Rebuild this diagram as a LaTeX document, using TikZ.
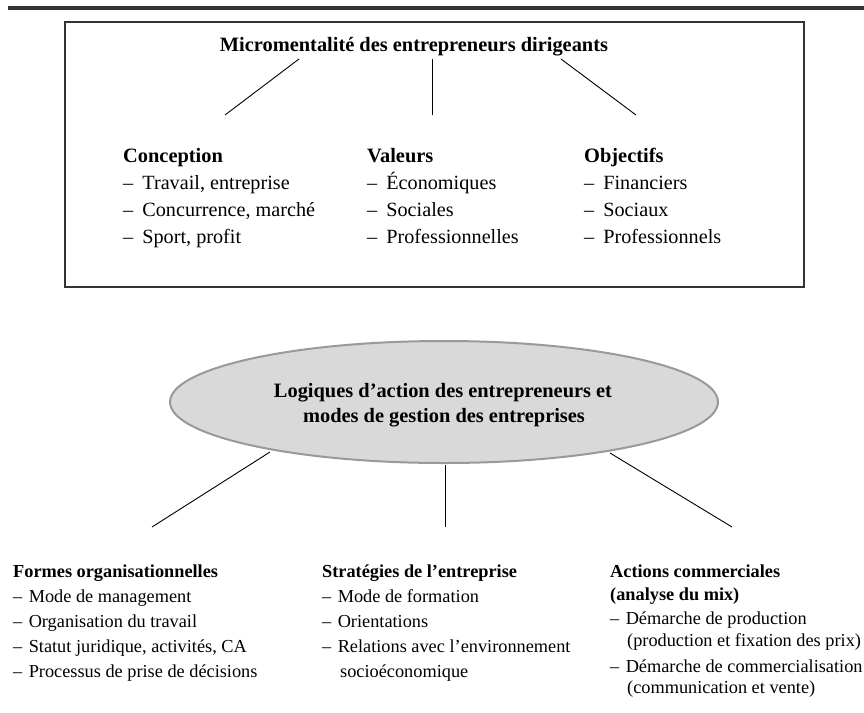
\documentclass[tikz,border=0pt]{standalone}
\usepackage{fontspec}
\setmainfont{Liberation Serif}
\usetikzlibrary{shapes.geometric}
\newcommand\tdsh{–\hspace{0.45em}}
\newcommand\bdsh{–\hspace{0.35em}}
\begin{document}
\begin{tikzpicture}[x=1pt,y=-1pt,
  txt/.style={inner sep=0pt, anchor=base west, font=\fontsize{20.2}{24}\selectfont},
  hd/.style={inner sep=0pt, anchor=base west, font=\fontsize{20.4}{24}\selectfont\bfseries},
  btxt/.style={inner sep=0pt, anchor=base west, font=\fontsize{18.3}{22}\selectfont},
  bhd/.style={inner sep=0pt, anchor=base west, font=\fontsize{18.3}{22}\selectfont\bfseries},
  conn/.style={draw=black, line width=0.9pt},
  frame/.style={draw=black!80, line width=1.5pt},
  oval/.style={ellipse, draw=black!40, fill=black!15, line width=2pt,
    minimum width=548pt, minimum height=122pt, inner sep=0pt}
]
\useasboundingbox (0,0) rectangle (864,712);
% top rule
\draw[line width=3.2pt, draw=black!80] (8,8) -- (864,8);
% top frame
\draw[frame] (65,22) rectangle (804,287);
\node[hd, anchor=base] (title) at (414,51) {Micromentalité des entrepreneurs dirigeants};
% connectors from title
\coordinate (t1a) at (299,59); \coordinate (t1b) at (225,115);
\coordinate (t2a) at (432,59); \coordinate (t2b) at (432,115);
\coordinate (t3a) at (561,59); \coordinate (t3b) at (636,115);
\draw[conn] (t1a) -- (t1b);
\draw[conn] (t2a) -- (t2b);
\draw[conn] (t3a) -- (t3b);
% column 1
\node[hd]  (c1)  at (123,162) {Conception};
\node[txt] (c1a) at (123,189) {\tdsh Travail, entreprise};
\node[txt] (c1b) at (123,216) {\tdsh Concurrence, marché};
\node[txt] (c1c) at (123,243) {\tdsh Sport, profit};
% column 2
\node[hd]  (c2)  at (367,162) {Valeurs};
\node[txt] (c2a) at (367,189) {\tdsh Économiques};
\node[txt] (c2b) at (367,216) {\tdsh Sociales};
\node[txt] (c2c) at (367,243) {\tdsh Professionnelles};
% column 3
\node[hd]  (c3)  at (584,162) {Objectifs};
\node[txt] (c3a) at (584,189) {\tdsh Financiers};
\node[txt] (c3b) at (584,216) {\tdsh Sociaux};
\node[txt] (c3c) at (584,243) {\tdsh Professionnels};
% ellipse
\node[oval] (E) at (444,402) {};
\node[hd, anchor=base] (E1) at (443,397) {Logiques d’action des entrepreneurs et};
\node[hd, anchor=base] (E2) at (444,422) {modes de gestion des entreprises};
% connectors below
\coordinate (b1a) at (270,452); \coordinate (b1b) at (152,527);
\coordinate (b2a) at (445,465); \coordinate (b2b) at (445,527);
\coordinate (b3a) at (610,453); \coordinate (b3b) at (732,527);
\draw[conn] (b1a) -- (b1b);
\draw[conn] (b2a) -- (b2b);
\draw[conn] (b3a) -- (b3b);
% bottom column 1
\node[bhd]  (d1)  at (13,577) {Formes organisationnelles};
\node[btxt] (d1a) at (13,602) {\bdsh Mode de management};
\node[btxt] (d1b) at (13,627) {\bdsh Organisation du travail};
\node[btxt] (d1c) at (13,652) {\bdsh Statut juridique, activités, CA};
\node[btxt] (d1d) at (13,677) {\bdsh Processus de prise de décisions};
% bottom column 2
\node[bhd]  (d2)  at (322,577) {Stratégies de l’entreprise};
\node[btxt] (d2a) at (322,602) {\bdsh Mode de formation};
\node[btxt] (d2b) at (322,627) {\bdsh Orientations};
\node[btxt] (d2c) at (322,652) {\bdsh Relations avec l’environnement};
\node[btxt] (d2d) at (340,677) {socioéconomique};
% bottom column 3
\node[bhd]  (d3)  at (610,577) {Actions commerciales};
\node[bhd]  (d3h) at (610,600) {(analyse du mix)};
\node[btxt] (d3a) at (610,624) {\bdsh Démarche de production};
\node[btxt] (d3b) at (627,646) {(production et fixation des prix)};
\node[btxt] (d3c) at (610,672) {\bdsh Démarche de commercialisation};
\node[btxt] (d3d) at (627,693) {(communication et vente)};
\end{tikzpicture}
\end{document}
